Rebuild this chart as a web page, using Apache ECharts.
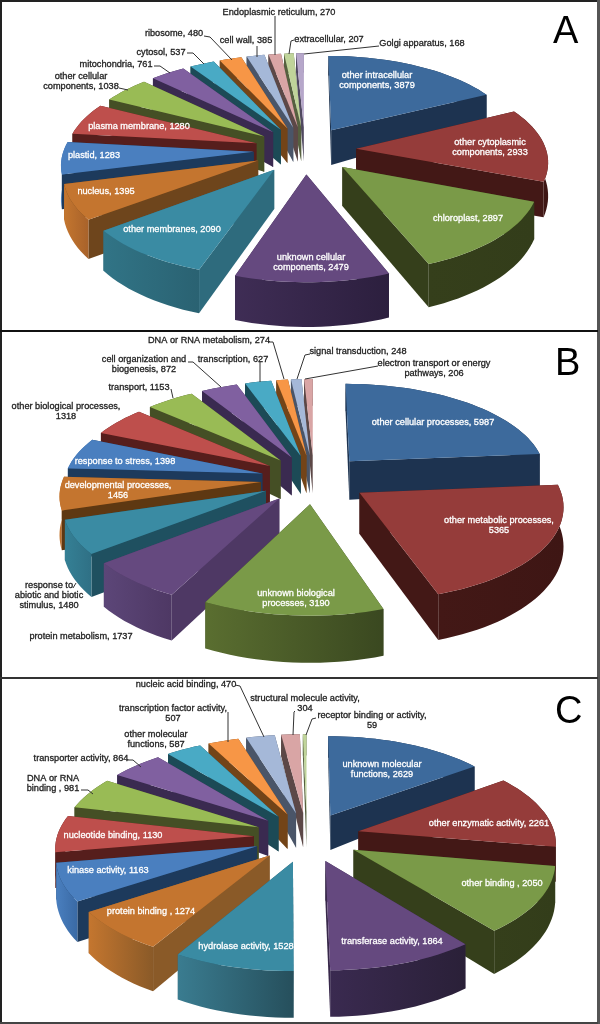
<!DOCTYPE html>
<html><head><meta charset="utf-8">
<style>html,body{margin:0;padding:0;background:#fff}#c{width:600px;height:1024px}</style>
<script src="https://cdn.jsdelivr.net/npm/echarts@6/dist/echarts.min.js"></script>
</head><body><div id="c"></div>
<script>
// ---------- data ----------
const namesA = ['other intracellular\ncomponents, {v}','other cytoplasmic\ncomponents, {v}','chloroplast, {v}','unknown cellular\ncomponents, {v}','other membranes, {v}','nucleus, {v}','plastid, {v}','plasma membrane, {v}','other cellular\ncomponents, {v}','mitochondria, {v}','cytosol, {v}','ribosome, {v}','cell wall, {v}','Endoplasmic reticulum, {v}','extracellular, {v}','Golgi apparatus, {v}'];
const valsA = [3879,2933,2897,2479,2090,1395,1283,1280,1038,761,537,480,385,270,207,168];
const namesB = ['other cellular processes, {v}','other metabolic processes,\n{v}','unknown biological\nprocesses, {v}','protein metabolism, {v}','response to\nabiotic and biotic\nstimulus, {v}','developmental processes,\n{v}','response to stress, {v}','other biological processes,\n{v}','transport, {v}','cell organization and\nbiogenesis, {v}','transcription, {v}','DNA or RNA metabolism, {v}','signal transduction, {v}','electron transport or energy\npathways, {v}'];
const valsB = [5987,5365,3190,1737,1480,1456,1398,1318,1153,872,627,274,248,206];
const namesC = ['unknown molecular\nfunctions, {v}','other enzymatic activity, {v}','other binding , {v}','transferase activity, {v}','hydrolase activity, {v}','protein binding , {v}','kinase activity, {v}','nucleotide binding, {v}','DNA or RNA\nbinding , {v}','transporter activity, {v}','other molecular\nfunctions, {v}','transcription factor activity,\n{v}','nucleic acid binding, {v}','structural molecule activity,\n{v}','receptor binding or activity,\n{v}'];
const valsC = [2629,2261,2050,1864,1528,1274,1163,1130,981,864,587,507,470,304,59];

// ---------- palette: top, radial wall, arc wall (left), arc wall (right) ----------
const palette = [
 ['#3d6a9c','#1d3350','#1d3350','#1b2f4a'],['#953c3a','#431816','#431816','#3e1614'],
 ['#7a9a48','#353f1b','#353f1b','#333d1a'],['#65497f','#38284a','#3f2d55','#2c1f3e'],
 ['#3a8ba3','#2e6b7d','#317486','#2a6272'],['#c4752f','#6e451c','#c4762f','#a8622a'],
 ['#4a7fbf','#1d3a5c','#4a7fbf','#3a6aa5'],['#be4f4c','#561e1c','#561e1c','#561e1c'],
 ['#99bb55','#454f25','#454f25','#454f25'],['#8060a0','#3a2a50','#3a2a50','#3a2a50'],
 ['#49aac5','#1c4a56','#1c4a56','#1c4a56'],['#f79646','#734418','#734418','#734418'],
 ['#a5b8d8','#4a5568','#4a5568','#4a5568'],['#d9a5a5','#5c4847','#5c4847','#5c4847'],
 ['#c0d49a','#55603f','#55603f','#55603f'],['#b6a7ca','#504860','#504860','#504860']
];

// ---------- layout ----------
const W='#fff', D='#222';
const panelA = {cx:305,cy:150,rx:190,ry:88,e:.27,p:.122,d:32,q:10,apex:5,letter:'A',lx:553,ly:52,over:{},
 labels:[[377,80,W],[490,147,W],[468,218,W],[311,262,W],[172,229,W],[106,191,W],[94,155,W],[139,126,W],[81,81,D],[116,64,D],[161,52,D],[174,33,D],[246,40,D],[279,12,D],[329,39,D],[422,43,D]],
 leaders:[[[119,88],[128,90]],[[154,66],[160,66],[170,73]],[[187,53],[193,53],[204,64]],[[204,36],[210,37],[232,60]],[[257,46],[257,57]],[[275,16],[275,55]],[[294,40],[291,41],[289,54]],[[379,46],[304,54]]]};
const panelB = {cx:314,cy:479,rx:198,ry:91,e:.27,p:.122,d:37,q:8,apex:3,letter:'B',lx:555,ly:384,
 over:{2:['#3a4820','#5a6e30','#3a4820'],3:['#4e3864','#5c4678','#4e3864'],4:['#1f5060','#358095','#2f7085'],5:['#5e3812','#c4762f','#a8622a']},
 labels:[[433,422,W],[499,525,W],[296,598,W],[81,636,D],[49,595,D],[118,490,W],[125,461,W],[66,411,D],[139,387,D],[144,364,D],[233,359,D],[209,340,D],[358,351,D],[434,368,D]],
 leaders:[[[76,583],[73,588]],[[171,389],[173,398]],[[188,362],[193,362],[221,387]],[[260,362],[260,382]],[[268,342],[273,342],[284,379]],[[310,354],[305,355],[297,379]],[[378,366],[305,379]]]};
const panelC = {cx:307,cy:837,rx:197,ry:92,e:.27,p:.107,d:34,q:10,apex:3,letter:'C',lx:555,ly:732,
 over:{3:['#38284a','#3a2a50','#2a2038'],4:['#2a5c6c','#3a7c90','#264f5c'],5:['#8a5a28','#c4762f','#8a5a28']},
 labels:[[382,769,W],[489,823,W],[502,883,W],[392,941,W],[246,946,W],[151,911,W],[108,870,W],[113,835,W],[53,783,D],[81,758,D],[156,739,D],[173,713,D],[186,684,D],[305,703,D],[372,720,D]],
 leaders:[[[81,790],[88,790],[93,794]],[[127,760],[133,760],[141,767]],[[228,712],[228,742]],[[235,685],[240,686],[264,737]],[[295,711],[294,712],[293,735]],[[316,718],[312,719],[306,735]]]};

const FONT = '9.2px "Liberation Sans", Arial, sans-serif';

function makeSeries(P, names, vals){
  const total = vals.reduce((a,b)=>a+b,0);
  const starts=[]; let c=0; vals.forEach(v=>{starts.push(c/total*2*Math.PI); c+=v;});
  const proj=(X,Y)=>{const s=1/(1-P.p*Y);return [P.cx+P.rx*X*s,P.cy+P.ry*Y*s];};
  const drop=(pt,Y,extra)=>[pt[0],pt[1]+P.d+P.q*Y+(extra||0)];
  return {
    type:'custom',coordinateSystem:'none',silent:true,animation:false,clip:false,
    data:vals,
    renderItem(params){
      const i=params.dataIndex,a0=starts[i],a1=a0+vals[i]/total*2*Math.PI,mid=(a0+a1)/2;
      const ax=P.e*Math.sin(mid), ay=-P.e*Math.cos(mid);
      const n=Math.max(3,Math.ceil((a1-a0)/0.04));
      const rim=[];
      for(let k=0;k<=n;k++){const t=a0+(a1-a0)*k/n;rim.push([ax+Math.sin(t),ay-Math.cos(t)]);}
      const base_col=palette[i%palette.length], o=P.over[i];
      const col=o?[base_col[0],o[0],o[1],o[2]]:base_col;
      const topPts=[proj(ax,ay)].concat(rim.map(q=>proj(q[0],q[1])));
      const apexT=proj(ax,ay),apexB=drop(apexT,ay,P.apex);
      const faces=[];
      const radial=(q)=>{const t=proj(q[0],q[1]);return {y:(q[1]+ay)/2,pts:[apexT,t,drop(t,q[1]),apexB],fill:col[1]};};
      faces.push(radial(rim[0]));faces.push(radial(rim[n]));
      const upper=rim.map(q=>proj(q[0],q[1])),lower=rim.map((q,k)=>drop(upper[k],q[1])).reverse();
      const xs=upper.map(q=>q[0]),xmin=Math.min.apply(null,xs),xmax=Math.max.apply(null,xs);
      faces.push({y:rim[n>>1][1],pts:upper.concat(lower),
        fill:new echarts.graphic.LinearGradient(xmin,0,xmax,0,[{offset:0,color:col[2]},{offset:1,color:col[3]}],true)});
      faces.sort((f,g)=>f.y-g.y);
      const base=Math.round((ay+2)*1000);
      const kids=faces.map((f,k)=>({type:'polygon',z2:base+k,shape:{points:f.pts},style:{fill:f.fill}}));
      kids.push({type:'polygon',z2:base+5,shape:{points:topPts},style:{fill:col[0]}});
      const L=P.labels[i];
      kids.push({type:'text',z2:90000,x:L[0],y:L[1],style:{text:names[i].replace('{v}',vals[i]),fill:L[2],stroke:L[2],lineWidth:.3,font:FONT,align:'center',verticalAlign:'middle',lineHeight:10}});
      if(i===0){
        P.leaders.forEach(l=>kids.push({type:'polyline',z2:80000,shape:{points:l},style:{stroke:'#333',lineWidth:1,fill:null}}));
      }
      return {type:'group',children:kids};
    }
  };
}

function rect(x,y,w,h,fill){return {type:'rect',z:50,silent:true,shape:{x,y,width:w,height:h},style:{fill}};}
function letter(P){return {type:'text',z:50,silent:true,x:P.lx,y:P.ly,style:{text:P.letter,fill:'#000',font:'38px "Liberation Sans", Arial, sans-serif',verticalAlign:'bottom'}};}

const chart=echarts.init(document.getElementById('c'),null,{renderer:'canvas',width:600,height:1024});
chart.setOption({
  animation:false,backgroundColor:'#fff',
  graphic:[
    rect(0,0,600,2,'#222'),rect(0,0,2,1024,'#222'),rect(597,0,3,1024,'#555'),
    rect(0,330,598,2,'#111'),rect(0,677,598,2,'#333'),rect(0,1022,598,2,'#444'),
    letter(panelA),letter(panelB),letter(panelC)
  ],
  series:[makeSeries(panelA,namesA,valsA),makeSeries(panelB,namesB,valsB),makeSeries(panelC,namesC,valsC)]
});
</script></body></html>
